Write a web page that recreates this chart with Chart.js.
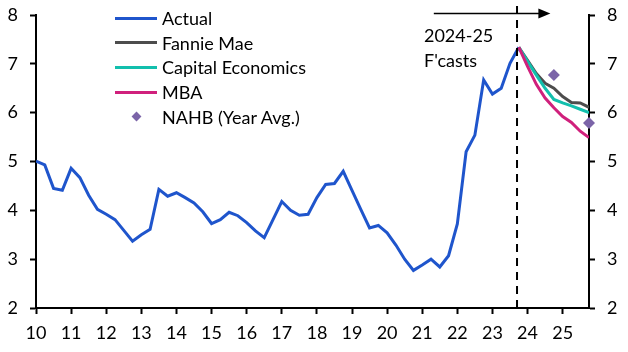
<!DOCTYPE html>
<html>
<head>
<meta charset="utf-8">
<script src="https://cdn.jsdelivr.net/npm/chart.js@4.4.1/dist/chart.umd.min.js"></script>
<style>
  html, body { margin: 0; padding: 0; background: #fff; }
  #wrap { position: relative; width: 628px; height: 352px; }
  #legend { position: absolute; left: 115px; top: 6px; font: 18px Lato, sans-serif; color: #000; }
  .row { height: 24.6px; display: flex; align-items: center; white-space: nowrap; }
  .swatch { width: 42px; height: 3px; margin-right: 5px; }
  .dot { width: 42px; margin-right: 5px; display: flex; justify-content: center; }
  .dot span { width: 7px; height: 7px; transform: rotate(45deg); }
</style>
</head>
<body>
<div id="wrap">
  <canvas id="myChart" width="628" height="352"></canvas>
  <div id="legend"></div>
</div>
<script>
// quarterly mortgage rate, %, 2010 Q1 to 2023 Q4
const actual = [
  5.01, 4.93, 4.45, 4.41,
  4.86, 4.67, 4.31, 4.02,
  3.92, 3.81, 3.59, 3.37,
  3.50, 3.61, 4.43, 4.29,
  4.36, 4.26, 4.15, 3.97,
  3.73, 3.81, 3.96, 3.89,
  3.75, 3.58, 3.44, 3.81,
  4.18, 4.00, 3.90, 3.92,
  4.26, 4.53, 4.55, 4.80,
  4.41, 4.02, 3.64, 3.69,
  3.54, 3.29, 3.00, 2.77,
  2.88, 3.00, 2.84, 3.07,
  3.72, 5.20, 5.54, 6.67,
  6.38, 6.50, 7.01, 7.34
]
// forecasts, 2023 Q4 to 2025 Q4
const fannieMae = [7.34, 7.07, 6.80, 6.60, 6.50, 6.33, 6.21, 6.20, 6.11]
const capitalEconomics = [7.34, 7.05, 6.77, 6.50, 6.27, 6.20, 6.14, 6.07, 6.00]
const mba = [7.34, 6.95, 6.58, 6.30, 6.10, 5.92, 5.80, 5.62, 5.49]
// NAHB year averages, plotted at Q4
const nahbYears = [24.75, 25.75]
const nahb = [6.77, 5.79]

const startYear = 10
const forecastStart = 23.75
const forecastLine = 23.7
const yTicks = [2, 3, 4, 5, 6, 7, 8]

const quarterly = (vals, from) => vals.map((v, i) => ({ x: from + i / 4, y: v }))

const FONT = { family: 'Lato, sans-serif', size: 18 }

const series = [
  { label: 'Actual', data: quarterly(actual, startYear), color: '#1f55cc', order: 5 },
  { label: 'Fannie Mae', data: quarterly(fannieMae, forecastStart), color: '#4d4d4d', order: 4 },
  { label: 'Capital Economics', data: quarterly(capitalEconomics, forecastStart), color: '#12bfad', order: 3 },
  { label: 'MBA', data: quarterly(mba, forecastStart), color: '#d0207c', order: 2 }
]

const datasets = series.map(s => ({
  label: s.label,
  data: s.data,
  borderColor: s.color,
  backgroundColor: s.color,
  borderWidth: 3,
  pointRadius: 0,
  tension: 0,
  order: s.order
}))
datasets.push({
  label: 'NAHB (Year Avg.)',
  data: nahbYears.map((x, i) => ({ x: x, y: nahb[i] })),
  showLine: false,
  pointStyle: 'rectRot',
  pointRadius: 6,
  backgroundColor: '#7b64a8',
  borderColor: '#7b64a8',
  borderWidth: 0,
  clip: false,
  order: 1
})

const forecastMarker = {
  id: 'forecastMarker',
  afterDatasetsDraw(chart) {
    const { ctx, chartArea } = chart
    const x = chart.scales.x
    const px = x.getPixelForValue(forecastLine)
    ctx.save()
    ctx.strokeStyle = '#000'
    ctx.lineWidth = 2
    ctx.setLineDash([8, 6])
    ctx.beginPath()
    ctx.moveTo(px, 6)
    ctx.lineTo(px, chartArea.bottom)
    ctx.stroke()

    // arrow
    ctx.setLineDash([])
    ctx.lineWidth = 1.5
    const a0 = x.getPixelForValue(21.33)
    const a1 = x.getPixelForValue(24.65)
    const ay = 13.5
    ctx.beginPath()
    ctx.moveTo(a0, ay)
    ctx.lineTo(a1 - 8, ay)
    ctx.stroke()
    ctx.fillStyle = '#000'
    ctx.beginPath()
    ctx.moveTo(a1, ay)
    ctx.lineTo(a1 - 12, ay - 5)
    ctx.lineTo(a1 - 12, ay + 5)
    ctx.closePath()
    ctx.fill()

    ctx.font = '18px Lato, sans-serif'
    ctx.textBaseline = 'middle'
    ctx.textAlign = 'left'
    const tx = x.getPixelForValue(21.05)
    ctx.fillText('2024-25', tx, 36)
    ctx.fillText("F'casts", tx, 61)
    ctx.restore()
  }
}

const axisGrid = { display: true, drawOnChartArea: false, drawTicks: true, tickLength: 6, tickColor: '#000', tickWidth: 2 }
const axisBorder = { display: true, color: '#000', width: 2 }

const yAxis = position => ({
  type: 'linear',
  position: position,
  min: 2,
  max: 8,
  afterBuildTicks: s => { s.ticks = yTicks.map(v => ({ value: v })) },
  afterFit: s => {
    s.width = position === 'left' ? 36 : 39
    s.paddingTop = 0
    s.paddingBottom = 0
  },
  ticks: { color: '#000', font: FONT, padding: 12 },
  grid: axisGrid,
  border: axisBorder
})

const config = {
  type: 'line',
  data: { datasets: datasets },
  options: {
    responsive: false,
    animation: false,
    layout: { padding: { top: 15, right: 0, left: 0, bottom: 0 } },
    plugins: { legend: { display: false }, tooltip: { enabled: false } },
    scales: {
      x: {
        type: 'linear',
        min: startYear,
        max: 25.75,
        afterFit: s => { s.height = 44 },
        ticks: { stepSize: 1, includeBounds: false, color: '#000', font: FONT, padding: 8, maxRotation: 0,
          callback: v => String(v) },
        grid: axisGrid,
        border: axisBorder
      },
      y: yAxis('left'),
      y2: yAxis('right')
    }
  },
  plugins: [forecastMarker]
}

myChart = new Chart(document.getElementById('myChart'), config)

// legend
const legend = document.getElementById('legend')
datasets.forEach(d => {
  const row = document.createElement('div')
  row.className = 'row'
  if (d.showLine === false) {
    row.innerHTML = '<div class="dot"><span style="background:' + d.backgroundColor + '"></span></div>' + d.label
  } else {
    row.innerHTML = '<div class="swatch" style="background:' + d.borderColor + '"></div>' + d.label
  }
  legend.appendChild(row)
})
</script>
</body>
</html>
